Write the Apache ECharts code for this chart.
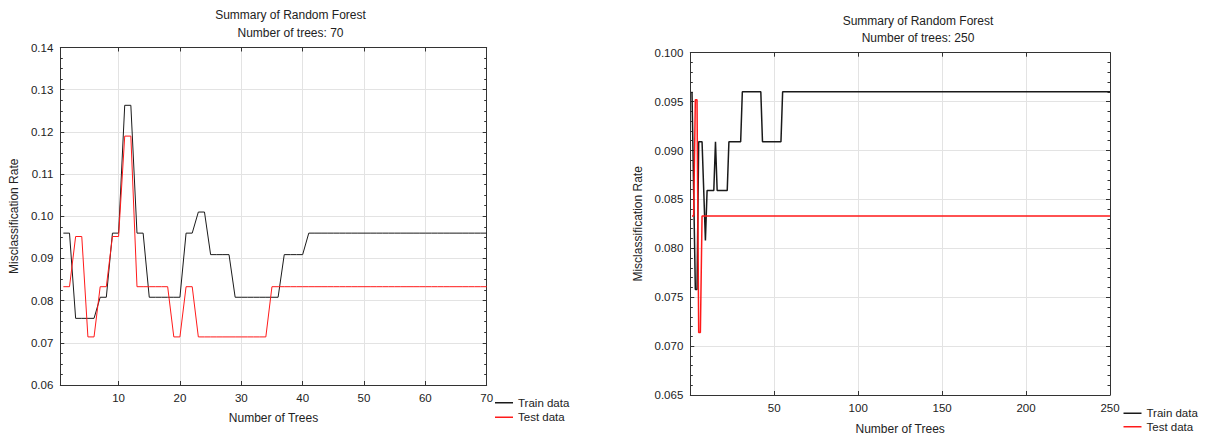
<!DOCTYPE html>
<html>
<head>
<meta charset="utf-8">
<script src="https://cdn.jsdelivr.net/npm/echarts@6/dist/echarts.min.js"></script>
<style>html,body{margin:0;padding:0;background:#fff;}#c{width:1205px;height:436px;}</style>
</head>
<body>
<div id="c"></div>
<script>
// ---------- DATA ----------
const titleMain = 'Summary of Random Forest';
const subLeft = 'Number of trees: 70';
const subRight = 'Number of trees: 250';
const xName = 'Number of Trees';
const yName = 'Misclassification Rate';
const legendNames = ['Train data', 'Test data'];
const xTicksLeft = [10, 20, 30, 40, 50, 60, 70];
const xTicksRight = [50, 100, 150, 200, 250];

// Left chart: 70 trees (tree 1..70)
const leftTrain = [
  0.0960, 0.0960, 0.0758, 0.0758, 0.0758, 0.0758, 0.0808, 0.0808, 0.0960, 0.0960,
  0.1263, 0.1263, 0.0960, 0.0960, 0.0808, 0.0808, 0.0808, 0.0808, 0.0808, 0.0808,
  0.0960, 0.0960, 0.1010, 0.1010, 0.0909, 0.0909, 0.0909, 0.0909, 0.0808, 0.0808,
  0.0808, 0.0808, 0.0808, 0.0808, 0.0808, 0.0808, 0.0909, 0.0909, 0.0909, 0.0909,
  0.0960, 0.0960, 0.0960, 0.0960, 0.0960, 0.0960, 0.0960, 0.0960, 0.0960, 0.0960,
  0.0960, 0.0960, 0.0960, 0.0960, 0.0960, 0.0960, 0.0960, 0.0960, 0.0960, 0.0960,
  0.0960, 0.0960, 0.0960, 0.0960, 0.0960, 0.0960, 0.0960, 0.0960, 0.0960, 0.0960
];
const leftTest = [
  0.0833, 0.0833, 0.0952, 0.0952, 0.0714, 0.0714, 0.0833, 0.0833, 0.0952, 0.0952,
  0.1190, 0.1190, 0.0833, 0.0833, 0.0833, 0.0833, 0.0833, 0.0833, 0.0714, 0.0714,
  0.0833, 0.0833, 0.0714, 0.0714, 0.0714, 0.0714, 0.0714, 0.0714, 0.0714, 0.0714,
  0.0714, 0.0714, 0.0714, 0.0714, 0.0833, 0.0833, 0.0833, 0.0833, 0.0833, 0.0833,
  0.0833, 0.0833, 0.0833, 0.0833, 0.0833, 0.0833, 0.0833, 0.0833, 0.0833, 0.0833,
  0.0833, 0.0833, 0.0833, 0.0833, 0.0833, 0.0833, 0.0833, 0.0833, 0.0833, 0.0833,
  0.0833, 0.0833, 0.0833, 0.0833, 0.0833, 0.0833, 0.0833, 0.0833, 0.0833, 0.0833
];

// Right chart: 250 trees (tree 1..250)
const rightTrain = [
  0.0960, 0.0859, 0.0758, 0.0758, 0.0909, 0.0909, 0.0909, 0.0859, 0.0808, 0.0859,
  0.0859, 0.0859, 0.0859, 0.0859, 0.0909, 0.0859, 0.0859, 0.0859, 0.0859, 0.0859,
  0.0859, 0.0859, 0.0909, 0.0909, 0.0909, 0.0909, 0.0909, 0.0909, 0.0909, 0.0909,
  0.0960, 0.0960, 0.0960, 0.0960, 0.0960, 0.0960, 0.0960, 0.0960, 0.0960, 0.0960,
  0.0960, 0.0960, 0.0909, 0.0909, 0.0909, 0.0909, 0.0909, 0.0909, 0.0909, 0.0909,
  0.0909, 0.0909, 0.0909, 0.0909, 0.0960, 0.0960, 0.0960, 0.0960, 0.0960, 0.0960,
  0.0960, 0.0960, 0.0960, 0.0960, 0.0960, 0.0960, 0.0960, 0.0960, 0.0960, 0.0960,
  0.0960, 0.0960, 0.0960, 0.0960, 0.0960, 0.0960, 0.0960, 0.0960, 0.0960, 0.0960,
  0.0960, 0.0960, 0.0960, 0.0960, 0.0960, 0.0960, 0.0960, 0.0960, 0.0960, 0.0960,
  0.0960, 0.0960, 0.0960, 0.0960, 0.0960, 0.0960, 0.0960, 0.0960, 0.0960, 0.0960,
  0.0960, 0.0960, 0.0960, 0.0960, 0.0960, 0.0960, 0.0960, 0.0960, 0.0960, 0.0960,
  0.0960, 0.0960, 0.0960, 0.0960, 0.0960, 0.0960, 0.0960, 0.0960, 0.0960, 0.0960,
  0.0960, 0.0960, 0.0960, 0.0960, 0.0960, 0.0960, 0.0960, 0.0960, 0.0960, 0.0960,
  0.0960, 0.0960, 0.0960, 0.0960, 0.0960, 0.0960, 0.0960, 0.0960, 0.0960, 0.0960,
  0.0960, 0.0960, 0.0960, 0.0960, 0.0960, 0.0960, 0.0960, 0.0960, 0.0960, 0.0960,
  0.0960, 0.0960, 0.0960, 0.0960, 0.0960, 0.0960, 0.0960, 0.0960, 0.0960, 0.0960,
  0.0960, 0.0960, 0.0960, 0.0960, 0.0960, 0.0960, 0.0960, 0.0960, 0.0960, 0.0960,
  0.0960, 0.0960, 0.0960, 0.0960, 0.0960, 0.0960, 0.0960, 0.0960, 0.0960, 0.0960,
  0.0960, 0.0960, 0.0960, 0.0960, 0.0960, 0.0960, 0.0960, 0.0960, 0.0960, 0.0960,
  0.0960, 0.0960, 0.0960, 0.0960, 0.0960, 0.0960, 0.0960, 0.0960, 0.0960, 0.0960,
  0.0960, 0.0960, 0.0960, 0.0960, 0.0960, 0.0960, 0.0960, 0.0960, 0.0960, 0.0960,
  0.0960, 0.0960, 0.0960, 0.0960, 0.0960, 0.0960, 0.0960, 0.0960, 0.0960, 0.0960,
  0.0960, 0.0960, 0.0960, 0.0960, 0.0960, 0.0960, 0.0960, 0.0960, 0.0960, 0.0960,
  0.0960, 0.0960, 0.0960, 0.0960, 0.0960, 0.0960, 0.0960, 0.0960, 0.0960, 0.0960,
  0.0960, 0.0960, 0.0960, 0.0960, 0.0960, 0.0960, 0.0960, 0.0960, 0.0960, 0.0960
];
const rightTest = [
  0.0833, 0.0833, 0.0952, 0.0952, 0.0714, 0.0714, 0.0833, 0.0833, 0.0833, 0.0833,
  0.0833, 0.0833, 0.0833, 0.0833, 0.0833, 0.0833, 0.0833, 0.0833, 0.0833, 0.0833,
  0.0833, 0.0833, 0.0833, 0.0833, 0.0833, 0.0833, 0.0833, 0.0833, 0.0833, 0.0833,
  0.0833, 0.0833, 0.0833, 0.0833, 0.0833, 0.0833, 0.0833, 0.0833, 0.0833, 0.0833,
  0.0833, 0.0833, 0.0833, 0.0833, 0.0833, 0.0833, 0.0833, 0.0833, 0.0833, 0.0833,
  0.0833, 0.0833, 0.0833, 0.0833, 0.0833, 0.0833, 0.0833, 0.0833, 0.0833, 0.0833,
  0.0833, 0.0833, 0.0833, 0.0833, 0.0833, 0.0833, 0.0833, 0.0833, 0.0833, 0.0833,
  0.0833, 0.0833, 0.0833, 0.0833, 0.0833, 0.0833, 0.0833, 0.0833, 0.0833, 0.0833,
  0.0833, 0.0833, 0.0833, 0.0833, 0.0833, 0.0833, 0.0833, 0.0833, 0.0833, 0.0833,
  0.0833, 0.0833, 0.0833, 0.0833, 0.0833, 0.0833, 0.0833, 0.0833, 0.0833, 0.0833,
  0.0833, 0.0833, 0.0833, 0.0833, 0.0833, 0.0833, 0.0833, 0.0833, 0.0833, 0.0833,
  0.0833, 0.0833, 0.0833, 0.0833, 0.0833, 0.0833, 0.0833, 0.0833, 0.0833, 0.0833,
  0.0833, 0.0833, 0.0833, 0.0833, 0.0833, 0.0833, 0.0833, 0.0833, 0.0833, 0.0833,
  0.0833, 0.0833, 0.0833, 0.0833, 0.0833, 0.0833, 0.0833, 0.0833, 0.0833, 0.0833,
  0.0833, 0.0833, 0.0833, 0.0833, 0.0833, 0.0833, 0.0833, 0.0833, 0.0833, 0.0833,
  0.0833, 0.0833, 0.0833, 0.0833, 0.0833, 0.0833, 0.0833, 0.0833, 0.0833, 0.0833,
  0.0833, 0.0833, 0.0833, 0.0833, 0.0833, 0.0833, 0.0833, 0.0833, 0.0833, 0.0833,
  0.0833, 0.0833, 0.0833, 0.0833, 0.0833, 0.0833, 0.0833, 0.0833, 0.0833, 0.0833,
  0.0833, 0.0833, 0.0833, 0.0833, 0.0833, 0.0833, 0.0833, 0.0833, 0.0833, 0.0833,
  0.0833, 0.0833, 0.0833, 0.0833, 0.0833, 0.0833, 0.0833, 0.0833, 0.0833, 0.0833,
  0.0833, 0.0833, 0.0833, 0.0833, 0.0833, 0.0833, 0.0833, 0.0833, 0.0833, 0.0833,
  0.0833, 0.0833, 0.0833, 0.0833, 0.0833, 0.0833, 0.0833, 0.0833, 0.0833, 0.0833,
  0.0833, 0.0833, 0.0833, 0.0833, 0.0833, 0.0833, 0.0833, 0.0833, 0.0833, 0.0833,
  0.0833, 0.0833, 0.0833, 0.0833, 0.0833, 0.0833, 0.0833, 0.0833, 0.0833, 0.0833,
  0.0833, 0.0833, 0.0833, 0.0833, 0.0833, 0.0833, 0.0833, 0.0833, 0.0833, 0.0833
];

// ---------- STYLE ----------
const FONT = '"Liberation Sans", Arial, Helvetica, sans-serif';
const TXT = '#222';
const AX = '#333';
const GRIDC = '#e3e3e3';
const BLACK = '#1a1a1a';
const RED = '#ff1a1a';

function pairs(arr) { return arr.map((v, i) => [i + 1, v]); }

function bottomX(grid, min, max, ticks, nameGap, extra) {
  return Object.assign({
    type: 'value', gridIndex: grid, position: 'bottom', min: min, max: max,
    name: xName, nameLocation: 'middle', nameGap: nameGap, nameMoveOverlap: false,
    nameTextStyle: { fontFamily: FONT, fontSize: 12, color: TXT },
    axisLine: { show: true, onZero: false, lineStyle: { color: AX, width: 1 } },
    axisTick: { show: true, inside: true, length: 4, lineStyle: { color: AX }, customValues: ticks },
    axisLabel: { show: true, margin: 7, fontFamily: FONT, fontSize: 11.5, color: TXT, customValues: ticks },
    splitLine: { show: true, lineStyle: { color: GRIDC, width: 1 } },
    minorTick: { show: false }
  }, extra || {});
}
function topX(grid, min, max, ticks) {
  return {
    type: 'value', gridIndex: grid, position: 'top', min: min, max: max,
    axisLine: { show: true, onZero: false, lineStyle: { color: AX, width: 1 } },
    axisTick: { show: true, inside: true, length: 4, lineStyle: { color: AX }, customValues: ticks },
    axisLabel: { show: false },
    splitLine: { show: false }
  };
}
function leftY(grid, min, max, interval, digits, nameGap, minorN) {
  return {
    type: 'value', gridIndex: grid, position: 'left', min: min, max: max, interval: interval,
    name: yName, nameLocation: 'middle', nameGap: nameGap, nameRotate: 90, nameMoveOverlap: false,
    nameTextStyle: { fontFamily: FONT, fontSize: 12, color: TXT },
    axisLine: { show: true, onZero: false, lineStyle: { color: AX, width: 1 } },
    axisTick: { show: true, inside: true, length: 4, lineStyle: { color: AX } },
    minorTick: { show: true, splitNumber: minorN, length: 2.5, lineStyle: { color: AX } },
    axisLabel: { show: true, margin: 7, fontFamily: FONT, fontSize: 11.5, color: TXT,
      formatter: v => v.toFixed(digits) },
    splitLine: { show: true, lineStyle: { color: GRIDC, width: 1 } }
  };
}
function rightY(grid, min, max, interval, minorN) {
  return {
    type: 'value', gridIndex: grid, position: 'right', min: min, max: max, interval: interval,
    axisLine: { show: true, onZero: false, lineStyle: { color: AX, width: 1 } },
    axisTick: { show: true, inside: true, length: 4, lineStyle: { color: AX } },
    minorTick: { show: true, splitNumber: minorN, length: 2.5, lineStyle: { color: AX } },
    axisLabel: { show: false },
    splitLine: { show: false }
  };
}
function legendAt(left, top, lh) {
  return {
    orient: 'vertical', left: left, top: top, padding: 0, itemGap: 0,
    itemWidth: 18, itemHeight: 1.5, icon: 'rect', selectedMode: false,
    itemStyle: { borderWidth: 0 },
    data: [
      { name: legendNames[0], itemStyle: { color: BLACK, borderWidth: 0 } },
      { name: legendNames[1], itemStyle: { color: RED, borderWidth: 0 } }
    ],
    textStyle: { fontFamily: FONT, fontSize: 11.5, color: TXT, lineHeight: lh, padding: [0, 0, 0, 0] }
  };
}
function titleAt(left, top, sub, gap) {
  return {
    text: titleMain, subtext: sub, left: left, top: top, textAlign: 'center', padding: 0, itemGap: gap,
    textStyle: { fontFamily: FONT, fontSize: 12, fontWeight: 'normal', color: TXT, lineHeight: 14 },
    subtextStyle: { fontFamily: FONT, fontSize: 12, color: TXT, lineHeight: 14 }
  };
}
function lineSeries(name, xi, yi, arr, color, width) {
  return {
    type: 'line', name: name, xAxisIndex: xi, yAxisIndex: yi, data: pairs(arr),
    showSymbol: false, symbol: 'none', animation: false,
    lineStyle: { color: color, width: width }, itemStyle: { color: color }
  };
}

const chart = echarts.init(document.getElementById('c'), null, { renderer: 'svg', width: 1205, height: 436 });
chart.setOption({
  animation: false,
  backgroundColor: '#fff',
  title: [titleAt(290.5, 8, subLeft, 3.5), titleAt(918, 13.5, subRight, 3)],
  legend: [legendAt(495, 395.5, 14.5), legendAt(1123.5, 406.5, 13.5)],
  grid: [
    { left: 60.3, top: 47.5, width: 426.4, height: 337.5, containLabel: false, outerBoundsMode: 'none' },
    { left: 690.3, top: 52.7, width: 419.7, height: 342.3, containLabel: false, outerBoundsMode: 'none' }
  ],
  xAxis: [
    bottomX(0, 0.5, 70, xTicksLeft, 27),
    topX(0, 0.5, 70, xTicksLeft),
    bottomX(1, 0, 250, xTicksRight, 28),
    topX(1, 0, 250, xTicksRight)
  ],
  yAxis: [
    leftY(0, 0.06, 0.14, 0.01, 2, 40, 4),
    rightY(0, 0.06, 0.14, 0.01, 4),
    leftY(1, 0.065, 0.100, 0.005, 3, 46, 5),
    rightY(1, 0.065, 0.100, 0.005, 5)
  ],
  series: [
    lineSeries(legendNames[0], 0, 0, leftTrain, BLACK, 1),
    lineSeries(legendNames[1], 0, 0, leftTest, RED, 1),
    lineSeries(legendNames[0], 2, 2, rightTrain, BLACK, 1.5),
    lineSeries(legendNames[1], 2, 2, rightTest, RED, 1.5)
  ]
});
</script>
</body>
</html>
